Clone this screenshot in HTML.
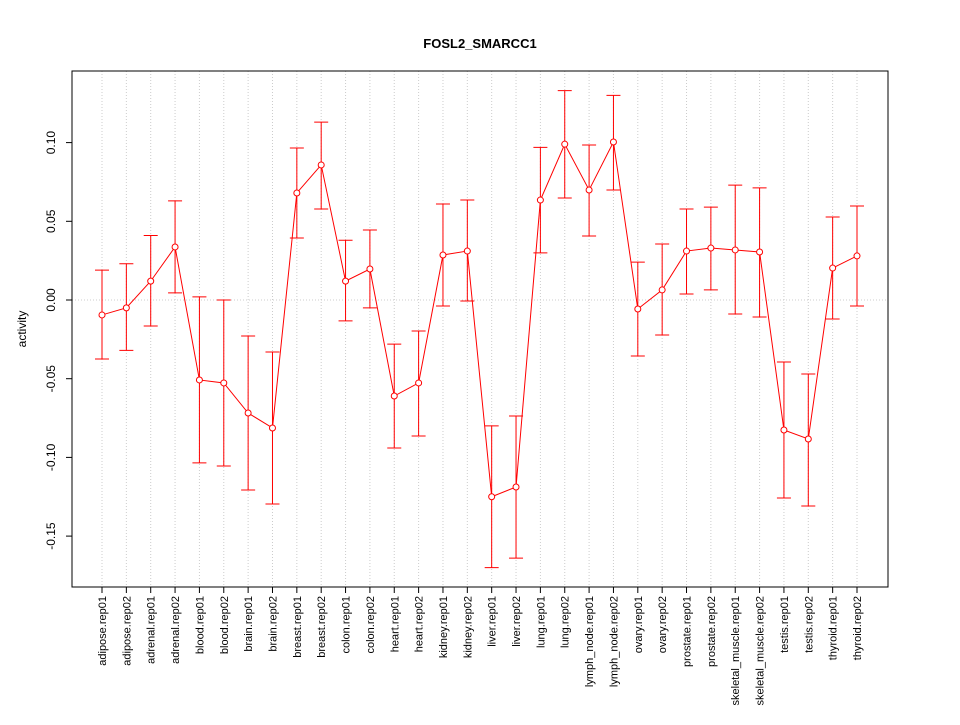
<!DOCTYPE html>
<html><head><meta charset="utf-8"><style>
body{margin:0;background:#fff}
svg{font-family:"Liberation Sans",sans-serif}
</style></head><body>
<svg id="chart" width="960" height="720" xmlns="http://www.w3.org/2000/svg">
<rect width="960" height="720" fill="#fff"/>
<text x="480" y="48" text-anchor="middle" font-size="13" font-weight="bold">FOSL2_SMARCC1</text>
<text transform="translate(26,329) rotate(-90)" text-anchor="middle" font-size="12">activity</text>
<g id="grid"></g><g id="axes"></g><g id="marks"></g>
<rect x="72" y="71" width="816" height="516" fill="none" stroke="#000"/>
</svg>
<script>
const categories=["adipose.rep01","adipose.rep02","adrenal.rep01","adrenal.rep02","blood.rep01","blood.rep02","brain.rep01","brain.rep02","breast.rep01","breast.rep02","colon.rep01","colon.rep02","heart.rep01","heart.rep02","kidney.rep01","kidney.rep02","liver.rep01","liver.rep02","lung.rep01","lung.rep02","lymph_node.rep01","lymph_node.rep02","ovary.rep01","ovary.rep02","prostate.rep01","prostate.rep02","skeletal_muscle.rep01","skeletal_muscle.rep02","testis.rep01","testis.rep02","thyroid.rep01","thyroid.rep02"];
const values=[-0.0095,-0.005,0.012,0.0337,-0.0508,-0.0527,-0.0718,-0.0813,0.068,0.0858,0.012,0.0197,-0.061,-0.0527,0.0286,0.0311,-0.125,-0.1188,0.0635,0.099,0.0699,0.1004,-0.0057,0.0064,0.0311,0.033,0.0318,0.0305,-0.0826,-0.0883,0.0203,0.028];
const upper=[0.019,0.023,0.041,0.063,0.002,0,-0.0229,-0.033,0.0966,0.113,0.038,0.0445,-0.028,-0.0197,0.061,0.0635,-0.080,-0.0737,0.097,0.133,0.0985,0.130,0.0241,0.0356,0.0578,0.059,0.073,0.0712,-0.0394,-0.047,0.0527,0.0597];
const lower=[-0.0375,-0.032,-0.0165,0.0045,-0.1035,-0.1055,-0.1207,-0.1296,0.0394,0.0578,-0.0133,-0.005,-0.094,-0.0864,-0.0038,-0.0006,-0.170,-0.164,0.0299,0.0648,0.0407,0.0699,-0.0356,-0.0222,0.0038,0.0064,-0.0089,-0.0108,-0.1258,-0.1309,-0.0121,-0.0038];
const yTicks=[-0.15,-0.10,-0.05,0.00,0.05,0.10];
const yTickLabels=["-0.15","-0.10","-0.05","0.00","0.05","0.10"];
const NS="http://www.w3.org/2000/svg";
function xs(i){return 102+i*(857-102)/(categories.length-1);}
function ys(v){return 300-v*1574;}
function mk(t,a,p){const e=document.createElementNS(NS,t);for(const k in a)e.setAttribute(k,a[k]);p.appendChild(e);return e;}
const grid=document.getElementById('grid'),axes=document.getElementById('axes'),marks=document.getElementById('marks');
categories.forEach((c,i)=>{
 const g=mk('line',{x1:xs(i),x2:xs(i),y1:71,y2:587,stroke:'#ccc','stroke-dasharray':'1,2'},grid);
 
 
 const t=mk('line',{x1:xs(i),x2:xs(i),y1:587,y2:593,stroke:'#000'},axes);
 
 
 const l=mk('text',{transform:`translate(${xs(i)+4},596) rotate(-90)`,'text-anchor':'end','font-size':'11'},axes);
 l.textContent=c;
 
 
});
const z=mk('line',{x1:72,x2:888,y1:ys(0),y2:ys(0),stroke:'#ccc','stroke-dasharray':'1,2'},grid);


mk('line',{x1:72,x2:72,y1:ys(yTicks[0]),y2:ys(yTicks[yTicks.length-1]),stroke:'#000'},axes);
mk('line',{x1:xs(0),x2:xs(categories.length-1),y1:587,y2:587,stroke:'#000'},axes);
yTicks.forEach((v,i)=>{
 const t=mk('line',{x1:66,x2:72,y1:ys(v),y2:ys(v),stroke:'#000'},axes);
 
 
 const l=mk('text',{transform:`translate(55,${ys(v)}) rotate(-90)`,'text-anchor':'middle','font-size':'12'},axes);
 l.textContent=yTickLabels[i];
 
 
});
const pts=values.map((v,i)=>xs(i)+','+ys(v)).join(' ');
const pl=mk('polyline',{points:pts,fill:'none',stroke:'#f00'},marks);


values.forEach((v,i)=>{
 const x=xs(i);
 const eb=mk('path',{d:`M${x},${ys(upper[i])}V${ys(lower[i])}M${x-7},${ys(upper[i])}H${x+7}M${x-7},${ys(lower[i])}H${x+7}`,stroke:'#f00',fill:'none'},marks);
 
 
 const p=mk('circle',{cx:x,cy:ys(v),r:3,fill:'#fff',stroke:'#f00'},marks);
 
 
});
</script>
</body></html>
